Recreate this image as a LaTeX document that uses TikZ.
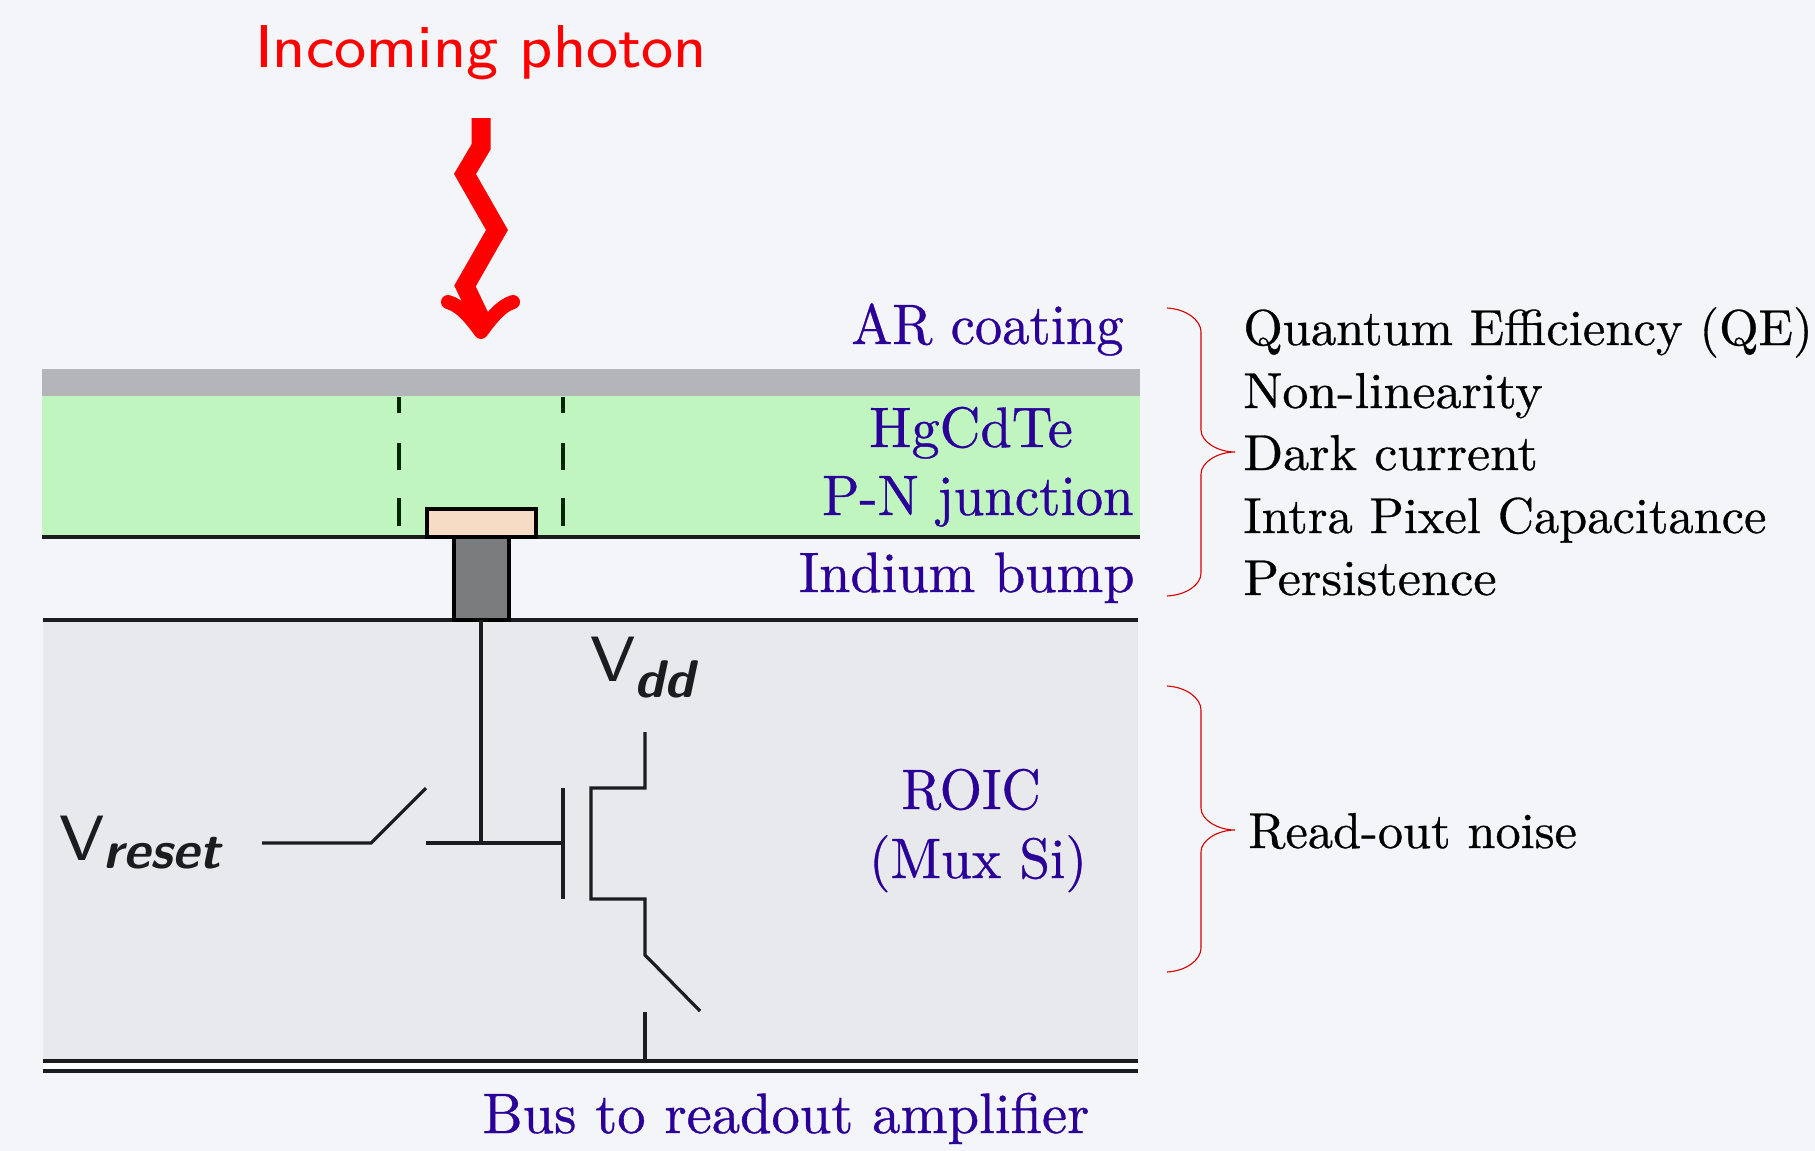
\documentclass[tikz,border=0pt]{standalone}
\usepackage{graphicx}
\usepackage{fontspec}
\setmainfont{Latin Modern Roman}[FakeBold=0.6]
\definecolor{bgc}{HTML}{F3F5F9}
\definecolor{arc}{HTML}{B4B5B8}
\definecolor{hgc}{HTML}{C0F5C0}
\definecolor{peach}{HTML}{F6DCC4}
\definecolor{bump}{HTML}{7A7B7D}
\definecolor{roic}{HTML}{E7E9EC}
\definecolor{lab}{HTML}{2A0099}
\definecolor{wire}{HTML}{1A1C1E}
\newcommand{\bluetext}[2][2.85]{\scalebox{#1}[2.85]{\fontsize{10}{11}\selectfont #2}}
\newcommand{\blacktext}[2][2.52]{\scalebox{#1}[2.52]{\fontsize{10}{11}\selectfont #2}}
\newcommand{\sanstext}[1]{\scalebox{3.78}{\sffamily\fontsize{8}{9}\selectfont #1}}
\newcommand{\bigvtext}[1]{\scalebox{4}{\sffamily\fontsize{8}{9}\selectfont #1}}
\tikzset{
  x=0.5pt,y=-0.5pt,
  bluelabel/.style={text=lab,inner sep=0pt},
  blacklabel/.style={text=black,inner sep=0pt,anchor=base west},
  wireline/.style={draw=wire,line width=1.6pt,line cap=butt,line join=miter},
  bracket/.style={draw=red!85!black,line width=0.55pt},
  photon/.style={draw=red,line join=miter},
  bigv/.style={inner sep=0pt,anchor=base west,text=wire},
  subv/.style={inner sep=0pt,anchor=base west,text=wire,font=\sffamily\bfseries\slshape\fontsize{26.5}{28}\selectfont},
}
\begin{document}
\begin{tikzpicture}
\useasboundingbox (0,0) rectangle (1815,1151);
\fill[bgc] (0,0) rectangle (1815,1151);
% layers
\fill[arc] (42,369) rectangle (1140,396);
\fill[hgc] (42,396) rectangle (1140,537);
\fill[roic] (43,620) rectangle (1138,1061);
\fill[white] (43,1061) rectangle (1138,1071);
% pixel boundaries
\foreach \x in {399,563}{
  \draw[draw=black!85!green,line width=1.6pt] (\x,397) -- (\x,413) (\x,443) -- (\x,470) (\x,498) -- (\x,526);
}
% horizontal rules
\draw[wireline] (42,537) -- (1140,537);
\draw[wireline] (43,620) -- (1138,620);
\draw[wireline] (43,1061) -- (1138,1061);
\draw[wireline] (43,1071) -- (1138,1071);
% contact and bump
\draw[draw=black,fill=peach,line width=1.6pt] (427,509) rectangle (536,537);
\draw[draw=black,fill=bump,line width=1.8pt] (454,537) rectangle (509,620);
% circuit
\coordinate (rl) at (262,843);
\coordinate (rk) at (371,843);
\coordinate (ru) at (426,788);
\coordinate (gl) at (426,843);
\coordinate (tap) at (481,843);
\coordinate (top) at (481,620);
\coordinate (gate) at (563,843);
\draw[wireline] (rl) -- (rk) -- (ru);
\draw[wireline] (gl) -- (gate);
\draw[wireline] (top) -- (tap);
\draw[wireline] (563,788) -- (563,899);
\draw[wireline] (645,732) -- (645,788) -- (591,788) -- (591,899) -- (645,899) -- (645,955) -- (700,1011);
\draw[wireline] (645,1012) -- (645,1061);
% photon
\draw[photon,line width=9.5pt] (481,118) -- (481,147) -- (465,174) -- (497,230) -- (465,286) -- (484,326);
\draw[photon,line width=7pt,line cap=round,line join=round]
  (448,302) .. controls (462,306) and (472,320) .. (481,332) .. controls (490,320) and (500,306) .. (513,302);
% brackets
\draw[bracket] (1167,308) .. controls (1186,309) and (1201,320) .. (1201,332) -- (1201,430)
  .. controls (1201,442) and (1218,452) .. (1235,452) .. controls (1218,452) and (1201,462) .. (1201,474)
  -- (1201,573) .. controls (1201,585) and (1186,595) .. (1167,596);
\draw[bracket] (1167,686) .. controls (1186,687) and (1201,698) .. (1201,710) -- (1201,808)
  .. controls (1201,820) and (1218,830) .. (1235,830) .. controls (1218,830) and (1201,840) .. (1201,852)
  -- (1201,948) .. controls (1201,960) and (1186,971) .. (1167,972);
% labels
\node[inner sep=0pt,anchor=base,text=red] (photonlabel) at (481,67) {\sanstext{Incoming photon}};
\node[bluelabel,anchor=base east] (ar) at (1124,344) {\bluetext[2.73]{AR coating}};
\node[bluelabel,anchor=base] (hg) at (971,447) {\bluetext[2.82]{HgCdTe}};
\node[bluelabel,anchor=base east] (pn) at (1134,515) {\bluetext[2.74]{P-N junction}};
\node[bluelabel,anchor=base east] (in) at (1135,592) {\bluetext[2.81]{Indium bump}};
\node[bluelabel,anchor=base] (ro) at (971,809) {\bluetext[2.71]{ROIC}};
\node[bluelabel,anchor=base] (mx) at (978,878) {\bluetext[2.76]{(Mux Si)}};
\node[bluelabel,anchor=base] (bus) at (786,1133) {\bluetext[2.83]{Bus to readout amplifier}};
\node[blacklabel] (qe) at (1243,345) {\blacktext[2.53]{Quantum Efficiency (QE)}};
\node[blacklabel] (nl) at (1243,408) {\blacktext[2.6]{Non-linearity}};
\node[blacklabel] (dc) at (1243,470) {\blacktext[2.6]{Dark current}};
\node[blacklabel] (ipc) at (1243,533) {\blacktext[2.52]{Intra Pixel Capacitance}};
\node[blacklabel] (pers) at (1243,595) {\blacktext[2.62]{Persistence}};
\node[blacklabel] (rn) at (1248,848) {\blacktext[2.52]{Read-out noise}};
\node[bigv] (v1) at (59,860) {\bigvtext{V}};
\node[subv] (s1) at (103,868) {reset};
\node[bigv] (v2) at (590,681) {\bigvtext{V}};
\node[subv] (s2) at (634,697) {dd};
\end{tikzpicture}
\end{document}
